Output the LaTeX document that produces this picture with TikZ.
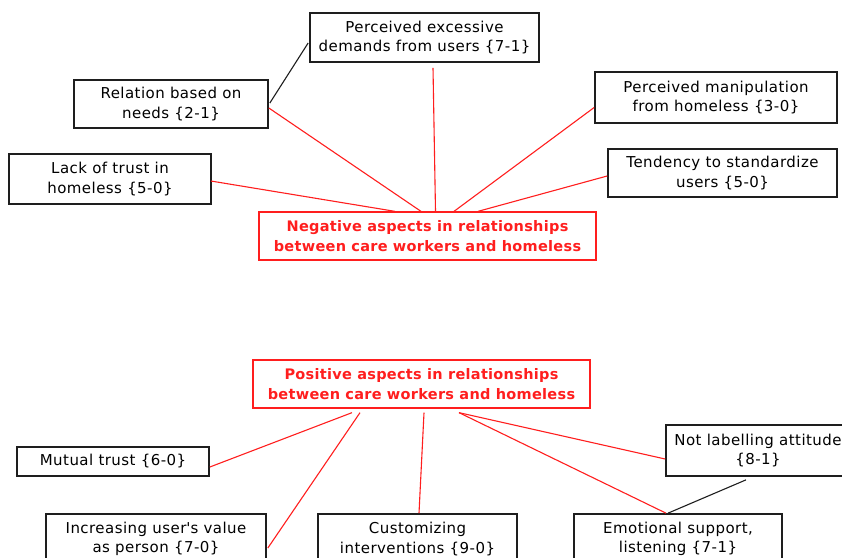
\documentclass[tikz,border=0pt]{standalone}
\usepackage{fontspec}
\setmainfont{DejaVu Sans}[LetterSpace=3, BoldFeatures={LetterSpace=2}]
\usetikzlibrary{calc}
\definecolor{linkred}{RGB}{255,30,30}
\definecolor{boxgray}{RGB}{30,30,30}
\tikzset{
  item/.style={draw=boxgray, line width=1.7pt, align=center, inner sep=0pt,
    font=\fontsize{15}{19.5}\selectfont, text=black},
  hub/.style={draw=linkred, line width=1.3pt, align=center, inner sep=0pt,
    minimum width=337pt, minimum height=48pt,
    font=\fontsize{14.5}{19.5}\selectfont\bfseries, text=linkred},
  redlink/.style={draw=linkred, line width=1.1pt},
  blacklink/.style={draw=boxgray, line width=1.1pt},
}
\begin{document}
\begin{tikzpicture}[x=1pt, y=-1pt]
\useasboundingbox[clip] (0,0) rectangle (842,557);
\fill[white] (0,0) rectangle (842,557);

% negative aspects
\node[hub] (neg) at (427.5,236) {Negative aspects in relationships\\between care workers and homeless};
\node[item, minimum width=229pt, minimum height=49pt] (pex) at (424.5,37.5) {Perceived excessive\\demands from users \{7-1\}};
\node[item, minimum width=194pt, minimum height=48pt] (rel) at (171,104) {Relation based on\\needs \{2-1\}};
\node[item, minimum width=202pt, minimum height=50pt] (lack) at (110,179) {Lack of trust in\\homeless \{5-0\}};
\node[item, minimum width=242pt, minimum height=51pt] (manip) at (716,97.5) {Perceived manipulation\\from homeless \{3-0\}};
\node[item, minimum width=229pt, minimum height=48pt] (tend) at (722.5,173) {Tendency to standardize\\users \{5-0\}};

\draw[blacklink] ($(rel.east)+(1,-1)$) -- ($(pex.west)+(-1,5.5)$);
\draw[redlink] ($(rel.east)+(0,4)$) -- ($(neg.north)+(-6.5,0)$);
\draw[redlink] ($(lack.east)+(-1,2)$) -- ($(neg.north)+(-32.5,0)$);
\draw[redlink] ($(pex.south)+(8.5,5)$) -- ($(neg.north)+(8,0)$);
\draw[redlink] ($(manip.west)+(0,10)$) -- ($(neg.north)+(26.5,0)$);
\draw[redlink] ($(tend.west)+(0,3)$) -- ($(neg.north)+(50.5,0)$);

% positive aspects
\node[hub] (pos) at (421.5,384) {Positive aspects in relationships\\between care workers and homeless};
\node[item, minimum width=192pt, minimum height=29pt] (mut) at (113,461.5) {Mutual trust \{6-0\}};
\node[item, minimum width=220pt, minimum height=50pt] (inc) at (156,539) {Increasing user\textquotesingle s value\\as person \{7-0\}};
\node[item, minimum width=199pt, minimum height=50pt] (cust) at (417.5,539) {Customizing\\interventions \{9-0\}};
\node[item, minimum width=208pt, minimum height=50pt] (emo) at (678,539) {Emotional support,\\listening \{7-1\}};
\node[item, minimum width=184pt, minimum height=51pt] (notl) at (758,450.5) {Not labelling attitude\\\{8-1\}};

\draw[redlink] ($(pos.south)+(-69.5,4)$) -- ($(mut.east)+(0,5.5)$);
\draw[redlink] ($(pos.south)+(-61.5,4)$) -- ($(inc.east)+(1,9)$);
\draw[redlink] ($(pos.south)+(2.5,4)$) -- ($(cust.north)+(1.5,0)$);
\draw[redlink] ($(pos.south)+(37.5,4)$) -- ($(emo.north)+(-12,0)$);
\draw[redlink] ($(pos.south)+(37.5,4)$) -- ($(notl.west)+(0,8.5)$);
\draw[blacklink] ($(notl.south)+(-12,3)$) -- ($(emo.north)+(-10,0)$);
\end{tikzpicture}
\end{document}
